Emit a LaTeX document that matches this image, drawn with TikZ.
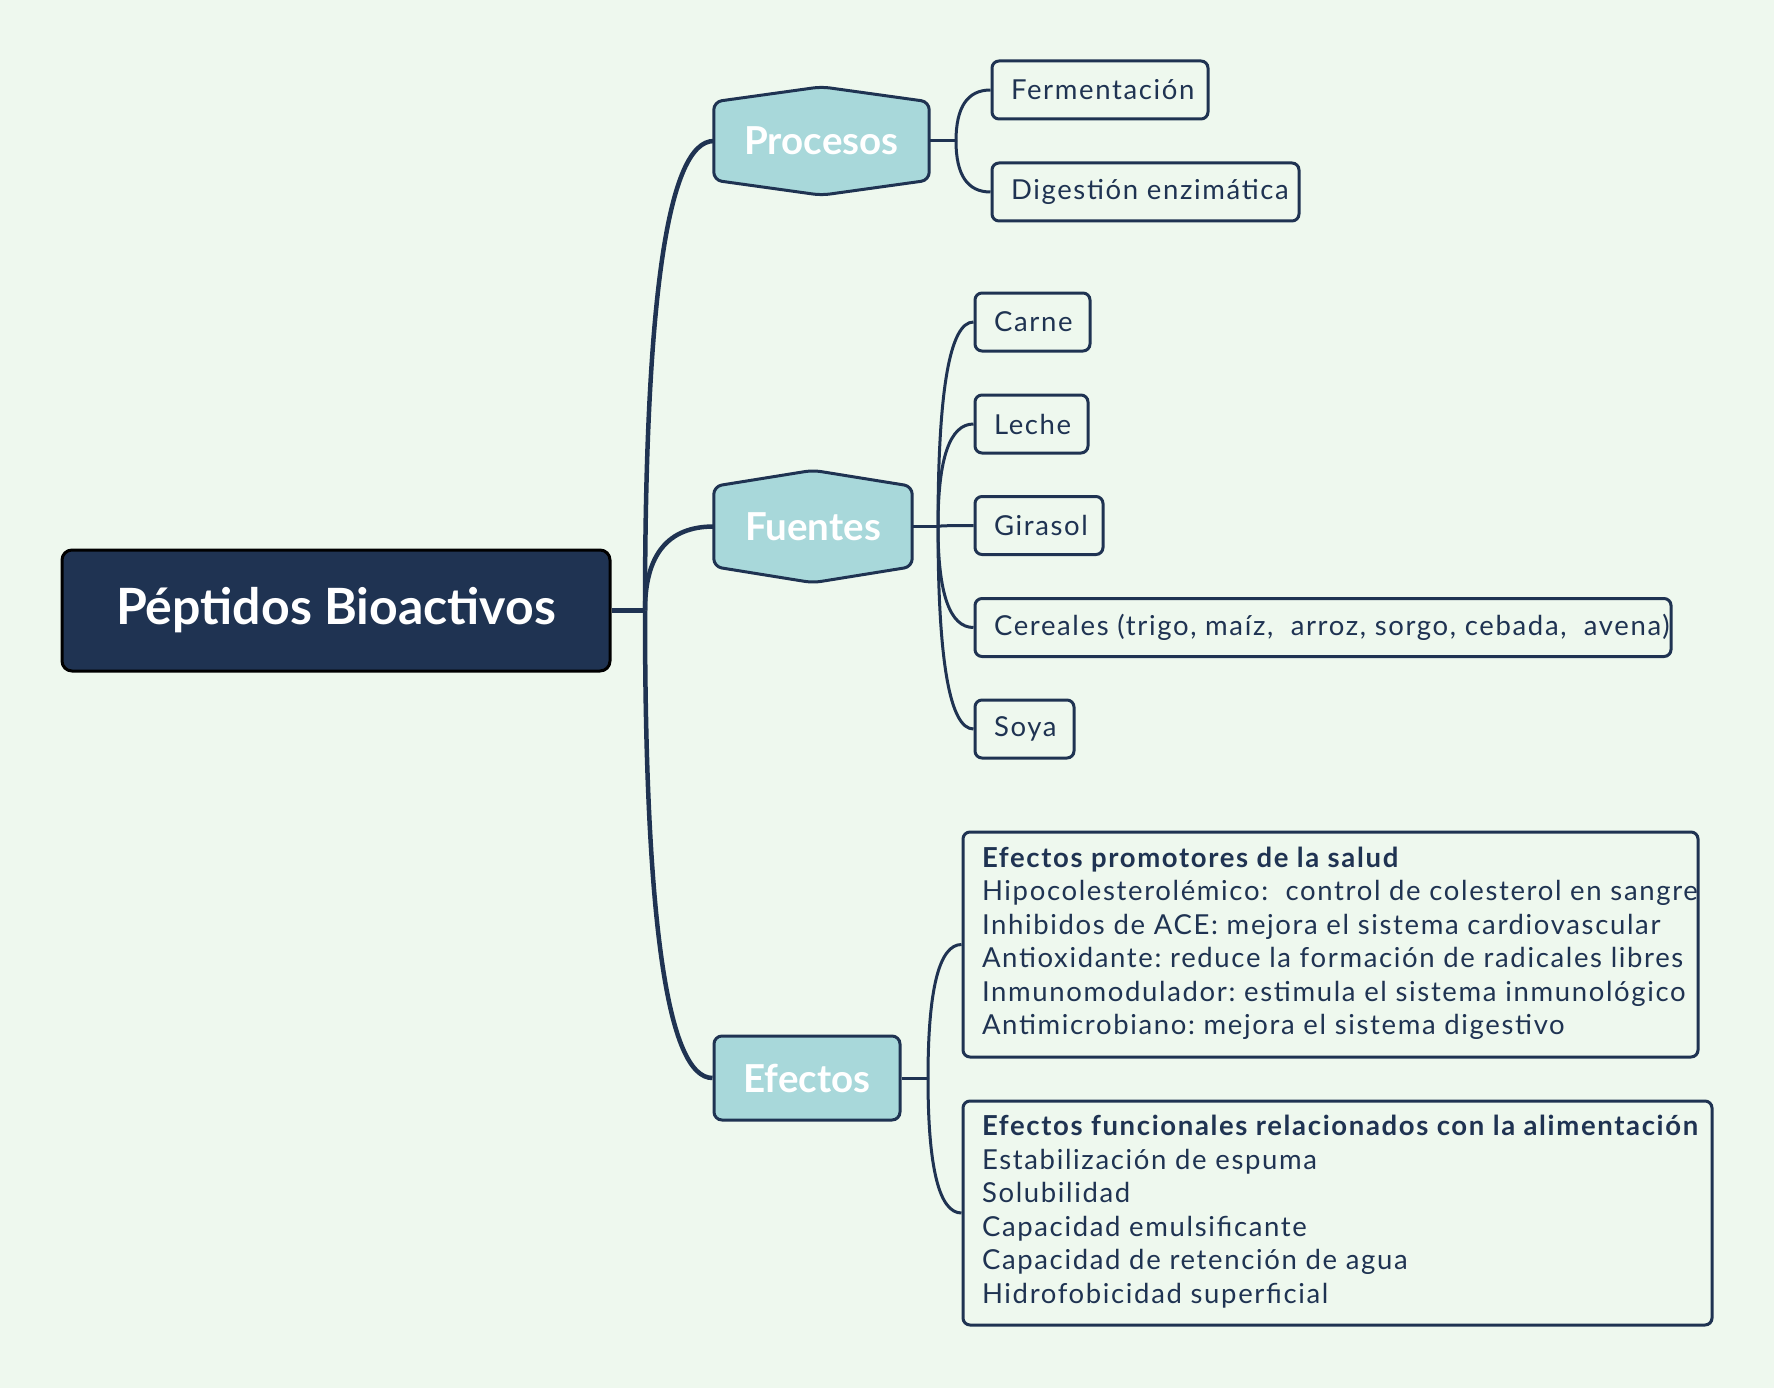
\documentclass[tikz,border=0pt]{standalone}
\usepackage{fontspec}
\setmainfont{Lato}
\newfontfamily\leaffam[LetterSpace=6]{Lato}
\usetikzlibrary{calc,backgrounds}
\frenchspacing

\definecolor{bgmint}{HTML}{EEF8EE}
\definecolor{navy}{HTML}{1F3352}
\definecolor{hexteal}{HTML}{A8D8DA}

\newcommand{\leaffont}{\leaffam\fontsize{27.5}{33.5}\selectfont}
\newcommand{\lefttext}[2]{\makebox[#1][l]{#2}}
\newcommand{\hexpath}[2]{(#1.north west) -- ($(#1.north)+(0,#2)$) -- (#1.north east) -- (#1.south east) -- ($(#1.south)-(0,#2)$) -- (#1.south west) -- cycle}

\tikzset{
	rootbox/.style={draw=black, line width=3pt, fill=navy, rounded corners=10pt, text=white,
		font=\fontsize{50}{60}\selectfont\bfseries, minimum width=548pt, minimum height=121pt},
	hexnode/.style={inner sep=0pt, text=white, font=\fontsize{38.5}{48}\selectfont\bfseries},
	hexline/.style={draw=navy, fill=hexteal, line width=3pt, rounded corners=8pt},
	efbox/.style={draw=navy, fill=hexteal, line width=3pt, rounded corners=8pt, text=white,
		font=\fontsize{38.5}{48}\selectfont\bfseries, minimum width=186pt, minimum height=84pt},
	leaf/.style={draw=navy, fill=bgmint, line width=3pt, rounded corners=7pt, text=navy,
		font=\leaffont, inner xsep=19pt, inner ysep=0pt, minimum height=58pt},
	branch/.style={draw=navy, line width=4.5pt},
	twig/.style={draw=navy, line width=3pt},
	curvy/.style={to path={.. controls ($(\tikztostart)!2/3!(\tikztostart|-\tikztotarget)$)
		and ($(\tikztotarget)!2/3!(\tikztostart|-\tikztotarget)$) .. (\tikztotarget)}},
}

\begin{document}
\begin{tikzpicture}[x=1pt, y=-1pt]
	\useasboundingbox (0,0) rectangle (1774,1388);

	% main topic
	\node[rootbox] (peptidos) at (336,610.5) {Péptidos Bioactivos};

	% branches
	\node[hexnode, minimum width=215pt, minimum height=78pt] (procesos) at (821.5,141) {Procesos};
	\node[hexnode, minimum width=198pt, minimum height=80pt] (fuentes) at (813,526.5) {Fuentes};
	\node[efbox] (efectos) at (807,1078) {Efectos};

	% procesos
	\node[leaf] (ferment) at (1100,90) {\lefttext{178pt}{Fermentación}};
	\node[leaf] (digest) at (1145.5,192) {\lefttext{269pt}{Digestión enzimática}};

	% fuentes
	\node[leaf] (carne) at (1032.5,322) {\lefttext{77pt}{Carne}};
	\node[leaf] (leche) at (1031.5,424) {\lefttext{75pt}{Leche}};
	\node[leaf] (girasol) at (1039,525.5) {\lefttext{90pt}{Girasol}};
	\node[leaf] (cereales) at (1323,627.5) {\lefttext{658pt}{Cereales (trigo, maíz,~ arroz, sorgo, cebada,~ avena)}};
	\node[leaf] (soya) at (1024.5,729) {\lefttext{61pt}{Soya}};

	% efectos
	\node[leaf, minimum height=225pt] (salud) at (1330.5,944.5) {\lefttext{697pt}{\begin{tabular}{@{}l@{}}
		\textbf{Efectos promotores de la salud}\\
		Hipocolesterolémico:~ control de colesterol en sangre\\
		Inhibidos de ACE: mejora el sistema cardiovascular\\
		Antioxidante: reduce la formación de radicales libres\\
		Inmunomodulador: estimula el sistema inmunológico\\
		Antimicrobiano: mejora el sistema digestivo
	\end{tabular}}};
	\node[leaf, minimum height=224pt] (alimento) at (1337.5,1213) {\lefttext{711pt}{\begin{tabular}{@{}l@{}}
		\textbf{Efectos funcionales relacionados con la alimentación}\\
		Estabilización de espuma\\
		Solubilidad\\
		Capacidad emulsificante\\
		Capacidad de retención de agua\\
		Hidrofobicidad superficial
	\end{tabular}}};

	% connectors
	\coordinate (rj) at (645,610.5);
	\coordinate (pj) at (956,141);
	\coordinate (fj) at (938,526.5);
	\coordinate (ej) at (928,1078);

	\draw[branch] (peptidos.east) -- (rj);
	\foreach \b in {procesos,fuentes,efectos}
		\draw[branch] (rj) to[curvy] (\b.west);

	\draw[twig] (procesos.east) -- (pj);
	\foreach \l in {ferment,digest}
		\draw[twig] (pj) to[curvy] (\l.west);

	\draw[twig] (fuentes.east) -- (fj);
	\foreach \l in {carne,leche,girasol,cereales,soya}
		\draw[twig] (fj) to[curvy] (\l.west);

	\draw[twig] (efectos.east) -- (ej);
	\foreach \l in {salud,alimento}
		\draw[twig] (ej) to[curvy] (\l.west);

	\begin{pgfonlayer}{background}
		\fill[bgmint] (0,0) rectangle (1774,1388);
		\filldraw[hexline] \hexpath{procesos}{15pt};
		\filldraw[hexline] \hexpath{fuentes}{16pt};
	\end{pgfonlayer}
\end{tikzpicture}
\end{document}
